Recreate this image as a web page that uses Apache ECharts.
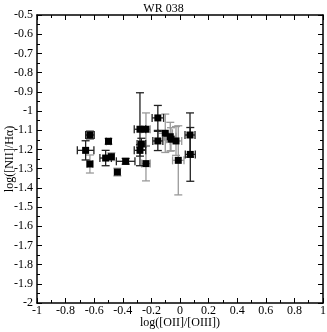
<!DOCTYPE html>
<html>
<head>
<meta charset="utf-8">
<script src="https://cdn.jsdelivr.net/npm/echarts@6/dist/echarts.min.js"></script>
<style>
  html, body { margin: 0; padding: 0; background: #fff; }
  #chart { width: 327px; height: 332px; }
</style>
</head>
<body>
<div id="chart"></div>
<script>
// rows: [log([OII]/[OIII]), log([NII]/Ha), xErr, yErr]
// points whose error bars are drawn in black
const pointsBlack = [
  [-0.66, -1.205, 0.058, 0.05],
  [-0.63, -1.125, 0.03, 0.02],
  [-0.52, -1.245, 0.04, 0.04],
  [-0.38, -1.262, 0.065, 0.015],
  [-0.28, -1.095, 0.04, 0.19],
  [-0.27, -1.172, 0.03, 0.03],
  [-0.28, -1.205, 0.04, 0.03],
  [-0.155, -1.036, 0.04, 0.065],
  [-0.155, -1.156, 0.035, 0.05],
  [0.07, -1.125, 0.035, 0.115],
  [0.072, -1.226, 0.035, 0.14]
]
// points whose error bars are drawn in grey
const pointsGrey = [
  [-0.63, -1.276, 0.02, 0.047],
  [-0.50, -1.158, 0.015, 0.015],
  [-0.48, -1.238, 0.02, 0.02],
  [-0.438, -1.318, 0.02, 0.02],
  [-0.238, -1.095, 0.03, 0.085],
  [-0.238, -1.274, 0.03, 0.09],
  [-0.103, -1.116, 0.05, 0.1],
  [-0.068, -1.134, 0.04, 0.075],
  [-0.063, -1.147, 0.03, 0.06],
  [-0.028, -1.156, 0.04, 0.075],
  [-0.012, -1.257, 0.04, 0.18]
]

const xTicks = { min: -1, max: 1, interval: 0.2 }
const yTicks = { min: -2, max: -0.5, interval: 0.1 }

const serif = 'Liberation Serif'

function errorBars(color) {
  return function(params, api) {
    const x = api.value(0)
    const y = api.value(1)
    const ex = api.value(2)
    const ey = api.value(3)
    const c = api.coord([x, y])
    const l = api.coord([x - ex, y])
    const r = api.coord([x + ex, y])
    const t = api.coord([x, y + ey])
    const b = api.coord([x, y - ey])
    const cap = 4
    const style = { stroke: color, lineWidth: 1.3 }
    const line = (x1, y1, x2, y2) => ({ type: 'line', shape: { x1, y1, x2, y2 }, style })
    return {
      type: 'group',
      children: [
        line(l[0], c[1], r[0], c[1]),
        line(c[0], t[1], c[0], b[1]),
        line(l[0], c[1] - cap, l[0], c[1] + cap),
        line(r[0], c[1] - cap, r[0], c[1] + cap),
        line(c[0] - cap, t[1], c[0] + cap, t[1]),
        line(c[0] - cap, b[1], c[0] + cap, b[1])
      ]
    }
  }
}

const chart = echarts.init(document.getElementById('chart'), null, { renderer: 'canvas' })

const tickBase = {
  axisLine: { show: true, onZero: false, lineStyle: { color: '#000', width: 1.5 } },
  axisTick: { show: true, inside: true, length: 5, lineStyle: { color: '#000', width: 1 } },
  minorTick: { show: true, splitNumber: 2, length: 3, lineStyle: { color: '#000', width: 1 } },
  splitLine: { show: false },
  minorSplitLine: { show: false }
}

chart.setOption({
  animation: false,
  backgroundColor: '#fff',
  title: {
    text: 'WR 038',
    left: 'center',
    top: -2,
    textStyle: { fontFamily: serif, fontSize: 12, fontWeight: 'normal', color: '#000' }
  },
  grid: { left: 37, right: 4, top: 15, bottom: 29, containLabel: false, outerBoundsMode: 'none' },
  xAxis: [
    Object.assign({
      type: 'value',
      min: xTicks.min,
      max: xTicks.max,
      interval: xTicks.interval,
      position: 'bottom',
      name: 'log([OII]/[OIII])',
      nameLocation: 'middle',
      nameGap: 14,
      nameMoveOverlap: false,
      nameTextStyle: { fontFamily: serif, fontSize: 12, color: '#000' },
      axisLabel: { fontFamily: serif, fontSize: 12, color: '#000', margin: 2 }
    }, tickBase),
    Object.assign({
      type: 'value',
      min: xTicks.min,
      max: xTicks.max,
      interval: xTicks.interval,
      position: 'top',
      axisLabel: { show: false }
    }, tickBase)
  ],
  yAxis: [
    Object.assign({
      type: 'value',
      min: yTicks.min,
      max: yTicks.max,
      interval: yTicks.interval,
      position: 'left',
      name: 'log([NII]/Hα)',
      nameLocation: 'middle',
      nameGap: 21,
      nameRotate: 90,
      nameMoveOverlap: false,
      nameTextStyle: { fontFamily: serif, fontSize: 12, color: '#000' },
      axisLabel: { fontFamily: serif, fontSize: 12, color: '#000', margin: 4 }
    }, tickBase),
    Object.assign({
      type: 'value',
      min: yTicks.min,
      max: yTicks.max,
      interval: yTicks.interval,
      position: 'right',
      axisLabel: { show: false }
    }, tickBase)
  ],
  series: [
    {
      type: 'custom',
      renderItem: errorBars('#9a9a9a'),
      data: pointsGrey,
      encode: { x: 0, y: 1 },
      z: 2
    },
    {
      type: 'custom',
      renderItem: errorBars('#222'),
      data: pointsBlack,
      encode: { x: 0, y: 1 },
      z: 3
    },
    {
      type: 'scatter',
      symbol: 'rect',
      symbolSize: 7,
      itemStyle: { color: '#000', opacity: 1 },
      data: pointsGrey.concat(pointsBlack).map(p => [p[0], p[1]]),
      z: 5
    }
  ]
})
</script>
</body>
</html>
